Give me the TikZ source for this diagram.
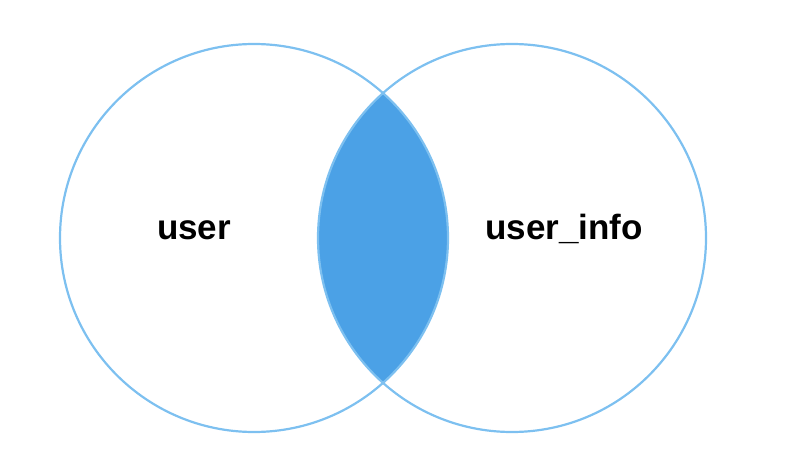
\documentclass[tikz,border=0pt]{standalone}
\usepackage{fontspec}
\setmainfont{Liberation Sans}
\definecolor{ringblue}{RGB}{125,192,240}
\definecolor{joinblue}{RGB}{75,161,230}
\begin{document}
\begin{tikzpicture}[x=1pt,y=1pt,
    ring/.style={draw=ringblue,line width=2.2pt},
    setname/.style={anchor=base,font=\fontsize{35}{40}\selectfont\bfseries}]
            \useasboundingbox (0,0) rectangle (799,471);
            \begin{scope}
              \clip (254,233) circle (194);
              \fill[joinblue] (512,233) circle (194);
            \end{scope}
            \draw[ring] (254,233) circle (194);
            \draw[ring] (512,233) circle (194);
            \node[setname] (user) at (194,231) {user};
            \node[setname] (userinfo) at (564,231) {user\_info};
        \end{tikzpicture}
\end{document}
